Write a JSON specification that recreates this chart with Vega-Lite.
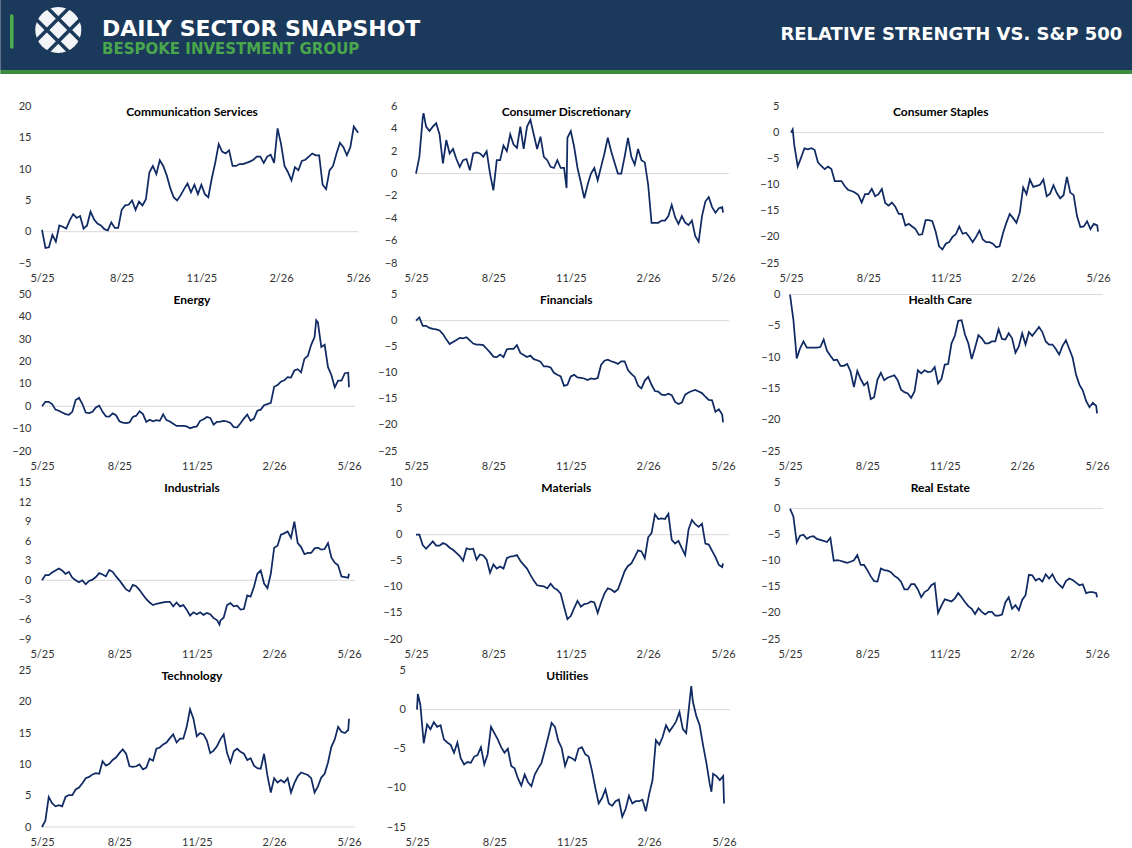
{
"$schema":"https://vega.github.io/schema/vega-lite/v6.json",
"padding":0,
"background":"#ffffff",
"title":{"text":"RELATIVE STRENGTH VS. S&P 500","anchor":"end","frame":"bounds","orient":"top","offset":-43.5,"dx":-10,"font":"DejaVu Sans","fontSize":18,"fontWeight":"bold","color":"#ffffff","zindex":1},
"config":{
"view":{"stroke":null},
"axis":{"grid":false,"domain":false,"ticks":false,"labelFont":"Lato","labelFontSize":11,"labelColor":"#333333","labelOverlap":false,"labelFlush":false},
"axisY":{"labelOverlap":false,"tickCount":30,"format":"d"},
"title":{"font":"Lato","fontSize":12,"fontWeight":"bold","color":"#000000","anchor":"middle","frame":"group"},
"line":{"color":"#102a63","strokeWidth":1.75}
},
"datasets":{
"comm":[{"date":"2025-05-12","value":0.3},{"date":"2025-05-16","value":-2.6},{"date":"2025-05-20","value":-2.5},{"date":"2025-05-24","value":-0.5},{"date":"2025-05-28","value":-1.6},{"date":"2025-06-01","value":1.0},{"date":"2025-06-05","value":0.8},{"date":"2025-06-09","value":0.5},{"date":"2025-06-13","value":1.8},{"date":"2025-06-17","value":2.8},{"date":"2025-06-21","value":2.2},{"date":"2025-06-25","value":2.5},{"date":"2025-06-29","value":0.5},{"date":"2025-07-03","value":1.0},{"date":"2025-07-07","value":3.2},{"date":"2025-07-11","value":2.0},{"date":"2025-07-15","value":1.3},{"date":"2025-07-19","value":1.0},{"date":"2025-07-23","value":0.4},{"date":"2025-07-27","value":0.2},{"date":"2025-07-31","value":1.5},{"date":"2025-08-04","value":0.6},{"date":"2025-08-08","value":0.6},{"date":"2025-08-12","value":3.5},{"date":"2025-08-16","value":4.2},{"date":"2025-08-20","value":4.3},{"date":"2025-08-24","value":5.0},{"date":"2025-08-28","value":3.5},{"date":"2025-09-01","value":4.8},{"date":"2025-09-05","value":4.2},{"date":"2025-09-09","value":5.2},{"date":"2025-09-13","value":9.5},{"date":"2025-09-17","value":10.5},{"date":"2025-09-21","value":9.2},{"date":"2025-09-25","value":11.4},{"date":"2025-09-29","value":10.5},{"date":"2025-10-03","value":9.0},{"date":"2025-10-07","value":7.0},{"date":"2025-10-11","value":5.5},{"date":"2025-10-15","value":5.0},{"date":"2025-10-19","value":5.8},{"date":"2025-10-23","value":6.8},{"date":"2025-10-27","value":7.7},{"date":"2025-10-31","value":6.3},{"date":"2025-11-04","value":7.5},{"date":"2025-11-08","value":6.0},{"date":"2025-11-12","value":7.5},{"date":"2025-11-16","value":6.0},{"date":"2025-11-20","value":5.5},{"date":"2025-11-24","value":8.5},{"date":"2025-11-28","value":11.0},{"date":"2025-12-02","value":14.0},{"date":"2025-12-06","value":12.8},{"date":"2025-12-10","value":12.5},{"date":"2025-12-14","value":13.0},{"date":"2025-12-18","value":10.5},{"date":"2025-12-22","value":10.5},{"date":"2025-12-26","value":10.8},{"date":"2025-12-30","value":10.8},{"date":"2026-01-03","value":11.0},{"date":"2026-01-07","value":11.2},{"date":"2026-01-11","value":11.5},{"date":"2026-01-15","value":12.0},{"date":"2026-01-19","value":12.0},{"date":"2026-01-23","value":11.0},{"date":"2026-01-27","value":12.0},{"date":"2026-01-31","value":12.3},{"date":"2026-02-04","value":11.0},{"date":"2026-02-08","value":16.5},{"date":"2026-02-12","value":14.0},{"date":"2026-02-16","value":10.5},{"date":"2026-02-20","value":9.5},{"date":"2026-02-24","value":8.2},{"date":"2026-02-28","value":10.3},{"date":"2026-03-04","value":9.8},{"date":"2026-03-08","value":11.3},{"date":"2026-03-12","value":11.5},{"date":"2026-03-16","value":12.0},{"date":"2026-03-20","value":12.5},{"date":"2026-03-24","value":12.2},{"date":"2026-03-28","value":12.2},{"date":"2026-04-01","value":7.5},{"date":"2026-04-05","value":6.8},{"date":"2026-04-09","value":9.8},{"date":"2026-04-13","value":10.5},{"date":"2026-04-17","value":12.5},{"date":"2026-04-21","value":14.2},{"date":"2026-04-25","value":13.5},{"date":"2026-04-29","value":12.2},{"date":"2026-05-03","value":13.5},{"date":"2026-05-07","value":16.8},{"date":"2026-05-11","value":16.0},{"date":"2026-05-12","value":15.8}],
"disc":[{"date":"2025-05-12","value":0.0},{"date":"2025-05-16","value":1.5},{"date":"2025-05-20","value":5.0},{"date":"2025-05-21","value":5.4},{"date":"2025-05-24","value":4.2},{"date":"2025-05-28","value":3.8},{"date":"2025-06-01","value":4.2},{"date":"2025-06-05","value":4.5},{"date":"2025-06-09","value":3.5},{"date":"2025-06-13","value":0.9},{"date":"2025-06-17","value":3.0},{"date":"2025-06-21","value":1.8},{"date":"2025-06-25","value":2.2},{"date":"2025-06-29","value":1.3},{"date":"2025-07-03","value":0.6},{"date":"2025-07-07","value":1.2},{"date":"2025-07-11","value":1.3},{"date":"2025-07-15","value":0.3},{"date":"2025-07-19","value":1.8},{"date":"2025-07-23","value":1.9},{"date":"2025-07-27","value":1.8},{"date":"2025-07-31","value":1.5},{"date":"2025-08-04","value":2.0},{"date":"2025-08-08","value":0.0},{"date":"2025-08-12","value":-1.5},{"date":"2025-08-16","value":1.2},{"date":"2025-08-20","value":1.2},{"date":"2025-08-24","value":2.5},{"date":"2025-08-28","value":2.0},{"date":"2025-09-01","value":3.5},{"date":"2025-09-05","value":2.6},{"date":"2025-09-09","value":2.3},{"date":"2025-09-13","value":4.2},{"date":"2025-09-17","value":2.2},{"date":"2025-09-21","value":4.2},{"date":"2025-09-25","value":4.8},{"date":"2025-09-29","value":3.5},{"date":"2025-10-03","value":2.2},{"date":"2025-10-07","value":3.3},{"date":"2025-10-11","value":1.5},{"date":"2025-10-15","value":1.2},{"date":"2025-10-19","value":0.6},{"date":"2025-10-23","value":0.5},{"date":"2025-10-27","value":1.2},{"date":"2025-10-31","value":0.5},{"date":"2025-11-04","value":0.5},{"date":"2025-11-07","value":-1.3},{"date":"2025-11-08","value":3.2},{"date":"2025-11-12","value":3.8},{"date":"2025-11-16","value":2.4},{"date":"2025-11-20","value":0.5},{"date":"2025-11-24","value":-0.8},{"date":"2025-11-28","value":-2.2},{"date":"2025-12-02","value":-1.0},{"date":"2025-12-06","value":0.0},{"date":"2025-12-10","value":0.5},{"date":"2025-12-14","value":-0.6},{"date":"2025-12-18","value":0.6},{"date":"2025-12-22","value":1.8},{"date":"2025-12-26","value":3.2},{"date":"2025-12-30","value":2.0},{"date":"2026-01-03","value":1.0},{"date":"2026-01-07","value":0.0},{"date":"2026-01-11","value":0.0},{"date":"2026-01-15","value":1.5},{"date":"2026-01-19","value":3.2},{"date":"2026-01-23","value":1.5},{"date":"2026-01-27","value":0.8},{"date":"2026-01-31","value":2.2},{"date":"2026-02-04","value":1.2},{"date":"2026-02-08","value":1.0},{"date":"2026-02-12","value":-1.0},{"date":"2026-02-16","value":-4.4},{"date":"2026-02-20","value":-4.4},{"date":"2026-02-24","value":-4.4},{"date":"2026-02-28","value":-4.2},{"date":"2026-03-04","value":-4.2},{"date":"2026-03-08","value":-3.8},{"date":"2026-03-12","value":-2.8},{"date":"2026-03-16","value":-3.9},{"date":"2026-03-20","value":-4.5},{"date":"2026-03-24","value":-3.8},{"date":"2026-03-28","value":-4.4},{"date":"2026-04-01","value":-4.6},{"date":"2026-04-05","value":-4.2},{"date":"2026-04-09","value":-5.6},{"date":"2026-04-13","value":-6.1},{"date":"2026-04-17","value":-3.8},{"date":"2026-04-21","value":-2.5},{"date":"2026-04-25","value":-2.1},{"date":"2026-04-29","value":-3.0},{"date":"2026-05-03","value":-3.5},{"date":"2026-05-07","value":-3.1},{"date":"2026-05-11","value":-3.0},{"date":"2026-05-12","value":-3.5}],
"staples":[{"date":"2025-05-12","value":0.0},{"date":"2025-05-14","value":0.6},{"date":"2025-05-16","value":-2.5},{"date":"2025-05-20","value":-6.5},{"date":"2025-05-24","value":-4.8},{"date":"2025-05-28","value":-3.0},{"date":"2025-06-01","value":-3.2},{"date":"2025-06-05","value":-3.0},{"date":"2025-06-09","value":-3.3},{"date":"2025-06-13","value":-5.7},{"date":"2025-06-17","value":-6.4},{"date":"2025-06-21","value":-7.0},{"date":"2025-06-25","value":-6.5},{"date":"2025-06-29","value":-7.0},{"date":"2025-07-03","value":-9.3},{"date":"2025-07-07","value":-9.3},{"date":"2025-07-11","value":-9.3},{"date":"2025-07-15","value":-10.3},{"date":"2025-07-19","value":-11.0},{"date":"2025-07-23","value":-11.2},{"date":"2025-07-27","value":-11.5},{"date":"2025-07-31","value":-12.0},{"date":"2025-08-04","value":-13.4},{"date":"2025-08-08","value":-11.8},{"date":"2025-08-12","value":-11.8},{"date":"2025-08-16","value":-10.8},{"date":"2025-08-20","value":-12.2},{"date":"2025-08-24","value":-11.8},{"date":"2025-08-28","value":-10.8},{"date":"2025-09-01","value":-13.5},{"date":"2025-09-05","value":-14.0},{"date":"2025-09-09","value":-13.4},{"date":"2025-09-13","value":-14.2},{"date":"2025-09-17","value":-15.6},{"date":"2025-09-21","value":-15.6},{"date":"2025-09-25","value":-17.8},{"date":"2025-09-29","value":-17.5},{"date":"2025-10-03","value":-18.0},{"date":"2025-10-07","value":-18.5},{"date":"2025-10-11","value":-19.6},{"date":"2025-10-15","value":-19.5},{"date":"2025-10-19","value":-16.8},{"date":"2025-10-23","value":-16.8},{"date":"2025-10-27","value":-17.0},{"date":"2025-10-31","value":-19.0},{"date":"2025-11-04","value":-21.8},{"date":"2025-11-08","value":-22.4},{"date":"2025-11-12","value":-21.3},{"date":"2025-11-16","value":-21.0},{"date":"2025-11-20","value":-20.0},{"date":"2025-11-24","value":-19.5},{"date":"2025-11-28","value":-18.0},{"date":"2025-12-02","value":-19.4},{"date":"2025-12-06","value":-19.2},{"date":"2025-12-10","value":-20.0},{"date":"2025-12-14","value":-21.0},{"date":"2025-12-18","value":-20.0},{"date":"2025-12-22","value":-18.8},{"date":"2025-12-26","value":-20.5},{"date":"2025-12-30","value":-21.0},{"date":"2026-01-03","value":-21.0},{"date":"2026-01-07","value":-21.3},{"date":"2026-01-11","value":-22.0},{"date":"2026-01-15","value":-21.8},{"date":"2026-01-19","value":-19.3},{"date":"2026-01-23","value":-17.3},{"date":"2026-01-27","value":-15.6},{"date":"2026-01-31","value":-16.4},{"date":"2026-02-04","value":-17.3},{"date":"2026-02-08","value":-15.3},{"date":"2026-02-12","value":-10.5},{"date":"2026-02-16","value":-11.8},{"date":"2026-02-20","value":-9.0},{"date":"2026-02-24","value":-10.4},{"date":"2026-02-28","value":-10.2},{"date":"2026-03-04","value":-10.0},{"date":"2026-03-08","value":-9.0},{"date":"2026-03-12","value":-12.2},{"date":"2026-03-16","value":-11.7},{"date":"2026-03-20","value":-10.1},{"date":"2026-03-24","value":-11.6},{"date":"2026-03-28","value":-12.6},{"date":"2026-04-01","value":-12.0},{"date":"2026-04-05","value":-8.5},{"date":"2026-04-09","value":-11.5},{"date":"2026-04-13","value":-12.0},{"date":"2026-04-17","value":-16.0},{"date":"2026-04-21","value":-18.1},{"date":"2026-04-25","value":-18.0},{"date":"2026-04-29","value":-17.0},{"date":"2026-05-03","value":-18.5},{"date":"2026-05-07","value":-17.5},{"date":"2026-05-11","value":-17.8},{"date":"2026-05-12","value":-19.0}],
"energy":[{"date":"2025-05-12","value":0.0},{"date":"2025-05-16","value":2.0},{"date":"2025-05-20","value":2.0},{"date":"2025-05-24","value":1.0},{"date":"2025-05-28","value":-1.5},{"date":"2025-06-01","value":-2.0},{"date":"2025-06-05","value":-2.8},{"date":"2025-06-09","value":-3.5},{"date":"2025-06-13","value":-3.8},{"date":"2025-06-17","value":-2.5},{"date":"2025-06-21","value":2.8},{"date":"2025-06-25","value":3.8},{"date":"2025-06-29","value":1.0},{"date":"2025-07-03","value":-2.8},{"date":"2025-07-07","value":-3.0},{"date":"2025-07-11","value":-2.5},{"date":"2025-07-15","value":-0.5},{"date":"2025-07-19","value":0.3},{"date":"2025-07-23","value":-2.5},{"date":"2025-07-27","value":-4.5},{"date":"2025-07-31","value":-4.6},{"date":"2025-08-04","value":-3.2},{"date":"2025-08-08","value":-4.0},{"date":"2025-08-12","value":-6.7},{"date":"2025-08-16","value":-7.3},{"date":"2025-08-20","value":-7.5},{"date":"2025-08-24","value":-7.2},{"date":"2025-08-28","value":-4.8},{"date":"2025-09-01","value":-4.2},{"date":"2025-09-05","value":-2.2},{"date":"2025-09-09","value":-3.5},{"date":"2025-09-13","value":-7.0},{"date":"2025-09-17","value":-6.0},{"date":"2025-09-21","value":-6.7},{"date":"2025-09-25","value":-6.2},{"date":"2025-09-29","value":-6.5},{"date":"2025-10-03","value":-3.6},{"date":"2025-10-07","value":-6.2},{"date":"2025-10-11","value":-6.8},{"date":"2025-10-15","value":-7.8},{"date":"2025-10-19","value":-8.8},{"date":"2025-10-23","value":-8.8},{"date":"2025-10-27","value":-8.8},{"date":"2025-10-31","value":-9.0},{"date":"2025-11-04","value":-9.8},{"date":"2025-11-08","value":-9.3},{"date":"2025-11-12","value":-9.0},{"date":"2025-11-16","value":-6.5},{"date":"2025-11-20","value":-5.8},{"date":"2025-11-24","value":-4.8},{"date":"2025-11-28","value":-5.2},{"date":"2025-12-02","value":-8.2},{"date":"2025-12-06","value":-7.0},{"date":"2025-12-10","value":-6.9},{"date":"2025-12-14","value":-6.5},{"date":"2025-12-18","value":-6.8},{"date":"2025-12-22","value":-7.5},{"date":"2025-12-26","value":-9.3},{"date":"2025-12-30","value":-9.4},{"date":"2026-01-03","value":-7.6},{"date":"2026-01-07","value":-5.5},{"date":"2026-01-11","value":-3.7},{"date":"2026-01-15","value":-6.5},{"date":"2026-01-19","value":-5.5},{"date":"2026-01-23","value":-2.0},{"date":"2026-01-27","value":-1.5},{"date":"2026-01-31","value":0.5},{"date":"2026-02-04","value":1.0},{"date":"2026-02-08","value":1.5},{"date":"2026-02-12","value":8.7},{"date":"2026-02-16","value":9.5},{"date":"2026-02-20","value":11.0},{"date":"2026-02-24","value":11.6},{"date":"2026-02-28","value":13.0},{"date":"2026-03-04","value":12.8},{"date":"2026-03-08","value":16.0},{"date":"2026-03-12","value":16.6},{"date":"2026-03-16","value":15.2},{"date":"2026-03-20","value":21.3},{"date":"2026-03-24","value":22.5},{"date":"2026-03-28","value":27.5},{"date":"2026-04-01","value":31.0},{"date":"2026-04-03","value":38.5},{"date":"2026-04-05","value":37.5},{"date":"2026-04-09","value":26.5},{"date":"2026-04-13","value":27.5},{"date":"2026-04-17","value":17.5},{"date":"2026-04-21","value":14.0},{"date":"2026-04-25","value":8.5},{"date":"2026-04-29","value":11.5},{"date":"2026-05-03","value":11.5},{"date":"2026-05-07","value":14.8},{"date":"2026-05-11","value":15.0},{"date":"2026-05-12","value":8.5}],
"fin":[{"date":"2025-05-12","value":0.0},{"date":"2025-05-16","value":0.6},{"date":"2025-05-20","value":-1.0},{"date":"2025-05-24","value":-1.0},{"date":"2025-05-28","value":-1.4},{"date":"2025-06-01","value":-1.6},{"date":"2025-06-05","value":-1.7},{"date":"2025-06-09","value":-1.9},{"date":"2025-06-13","value":-2.6},{"date":"2025-06-17","value":-3.6},{"date":"2025-06-21","value":-4.5},{"date":"2025-06-25","value":-4.1},{"date":"2025-06-29","value":-3.7},{"date":"2025-07-03","value":-3.3},{"date":"2025-07-07","value":-3.4},{"date":"2025-07-11","value":-3.2},{"date":"2025-07-15","value":-3.8},{"date":"2025-07-19","value":-4.4},{"date":"2025-07-23","value":-4.6},{"date":"2025-07-27","value":-4.6},{"date":"2025-07-31","value":-4.7},{"date":"2025-08-04","value":-5.4},{"date":"2025-08-08","value":-6.1},{"date":"2025-08-12","value":-6.9},{"date":"2025-08-16","value":-7.0},{"date":"2025-08-20","value":-6.5},{"date":"2025-08-24","value":-7.0},{"date":"2025-08-28","value":-5.5},{"date":"2025-09-01","value":-5.4},{"date":"2025-09-05","value":-5.4},{"date":"2025-09-09","value":-4.7},{"date":"2025-09-13","value":-6.2},{"date":"2025-09-17","value":-6.6},{"date":"2025-09-21","value":-7.0},{"date":"2025-09-25","value":-6.7},{"date":"2025-09-29","value":-7.4},{"date":"2025-10-03","value":-7.6},{"date":"2025-10-07","value":-7.9},{"date":"2025-10-11","value":-8.8},{"date":"2025-10-15","value":-8.8},{"date":"2025-10-19","value":-9.0},{"date":"2025-10-23","value":-10.0},{"date":"2025-10-27","value":-10.4},{"date":"2025-10-31","value":-10.7},{"date":"2025-11-04","value":-12.5},{"date":"2025-11-08","value":-12.3},{"date":"2025-11-12","value":-10.7},{"date":"2025-11-16","value":-10.4},{"date":"2025-11-20","value":-10.9},{"date":"2025-11-24","value":-11.0},{"date":"2025-11-28","value":-11.1},{"date":"2025-12-02","value":-11.4},{"date":"2025-12-06","value":-11.1},{"date":"2025-12-10","value":-11.2},{"date":"2025-12-14","value":-11.0},{"date":"2025-12-18","value":-8.5},{"date":"2025-12-22","value":-7.7},{"date":"2025-12-26","value":-7.5},{"date":"2025-12-30","value":-7.8},{"date":"2026-01-03","value":-8.0},{"date":"2026-01-07","value":-8.3},{"date":"2026-01-11","value":-7.8},{"date":"2026-01-15","value":-7.8},{"date":"2026-01-19","value":-9.5},{"date":"2026-01-23","value":-10.2},{"date":"2026-01-27","value":-10.8},{"date":"2026-01-31","value":-12.5},{"date":"2026-02-04","value":-13.0},{"date":"2026-02-08","value":-11.5},{"date":"2026-02-12","value":-10.8},{"date":"2026-02-16","value":-12.3},{"date":"2026-02-20","value":-13.5},{"date":"2026-02-24","value":-13.6},{"date":"2026-02-28","value":-14.2},{"date":"2026-03-04","value":-14.3},{"date":"2026-03-08","value":-14.0},{"date":"2026-03-12","value":-14.3},{"date":"2026-03-16","value":-15.6},{"date":"2026-03-20","value":-16.0},{"date":"2026-03-24","value":-15.7},{"date":"2026-03-28","value":-14.2},{"date":"2026-04-01","value":-13.8},{"date":"2026-04-05","value":-13.5},{"date":"2026-04-09","value":-13.3},{"date":"2026-04-13","value":-13.6},{"date":"2026-04-17","value":-13.9},{"date":"2026-04-21","value":-14.6},{"date":"2026-04-25","value":-15.2},{"date":"2026-04-29","value":-15.3},{"date":"2026-05-03","value":-17.5},{"date":"2026-05-07","value":-17.0},{"date":"2026-05-11","value":-18.0},{"date":"2026-05-12","value":-19.5}],
"health":[{"date":"2025-05-12","value":0.0},{"date":"2025-05-16","value":-4.0},{"date":"2025-05-20","value":-10.2},{"date":"2025-05-24","value":-8.6},{"date":"2025-05-28","value":-7.5},{"date":"2025-06-01","value":-8.5},{"date":"2025-06-05","value":-8.5},{"date":"2025-06-09","value":-8.5},{"date":"2025-06-13","value":-8.5},{"date":"2025-06-17","value":-8.4},{"date":"2025-06-21","value":-7.2},{"date":"2025-06-25","value":-9.0},{"date":"2025-06-29","value":-9.8},{"date":"2025-07-03","value":-10.5},{"date":"2025-07-07","value":-10.4},{"date":"2025-07-11","value":-11.4},{"date":"2025-07-15","value":-11.4},{"date":"2025-07-19","value":-11.1},{"date":"2025-07-23","value":-12.3},{"date":"2025-07-27","value":-14.8},{"date":"2025-07-31","value":-12.2},{"date":"2025-08-04","value":-13.5},{"date":"2025-08-08","value":-14.5},{"date":"2025-08-12","value":-14.0},{"date":"2025-08-16","value":-16.7},{"date":"2025-08-20","value":-16.4},{"date":"2025-08-24","value":-13.6},{"date":"2025-08-28","value":-12.5},{"date":"2025-09-01","value":-13.7},{"date":"2025-09-05","value":-13.3},{"date":"2025-09-09","value":-13.1},{"date":"2025-09-13","value":-12.9},{"date":"2025-09-17","value":-13.7},{"date":"2025-09-21","value":-15.2},{"date":"2025-09-25","value":-15.6},{"date":"2025-09-29","value":-15.8},{"date":"2025-10-03","value":-16.5},{"date":"2025-10-07","value":-15.5},{"date":"2025-10-11","value":-12.1},{"date":"2025-10-15","value":-12.6},{"date":"2025-10-19","value":-12.1},{"date":"2025-10-23","value":-12.4},{"date":"2025-10-27","value":-12.3},{"date":"2025-10-31","value":-11.6},{"date":"2025-11-04","value":-14.2},{"date":"2025-11-08","value":-13.5},{"date":"2025-11-12","value":-11.2},{"date":"2025-11-16","value":-11.1},{"date":"2025-11-20","value":-7.8},{"date":"2025-11-24","value":-6.6},{"date":"2025-11-28","value":-4.2},{"date":"2025-12-02","value":-4.1},{"date":"2025-12-06","value":-6.4},{"date":"2025-12-10","value":-7.8},{"date":"2025-12-14","value":-10.3},{"date":"2025-12-18","value":-8.5},{"date":"2025-12-22","value":-6.5},{"date":"2025-12-26","value":-7.0},{"date":"2025-12-30","value":-7.8},{"date":"2026-01-03","value":-7.8},{"date":"2026-01-07","value":-7.5},{"date":"2026-01-11","value":-7.5},{"date":"2026-01-15","value":-5.5},{"date":"2026-01-19","value":-7.1},{"date":"2026-01-23","value":-7.2},{"date":"2026-01-27","value":-6.2},{"date":"2026-01-31","value":-7.0},{"date":"2026-02-04","value":-9.3},{"date":"2026-02-08","value":-8.3},{"date":"2026-02-12","value":-6.2},{"date":"2026-02-16","value":-8.0},{"date":"2026-02-20","value":-6.0},{"date":"2026-02-24","value":-6.6},{"date":"2026-02-28","value":-5.9},{"date":"2026-03-04","value":-5.2},{"date":"2026-03-08","value":-6.0},{"date":"2026-03-12","value":-7.5},{"date":"2026-03-16","value":-8.0},{"date":"2026-03-20","value":-8.0},{"date":"2026-03-24","value":-8.7},{"date":"2026-03-28","value":-9.6},{"date":"2026-04-01","value":-8.2},{"date":"2026-04-05","value":-7.3},{"date":"2026-04-09","value":-8.7},{"date":"2026-04-13","value":-10.1},{"date":"2026-04-17","value":-12.8},{"date":"2026-04-21","value":-14.4},{"date":"2026-04-25","value":-15.3},{"date":"2026-04-29","value":-17.0},{"date":"2026-05-03","value":-18.0},{"date":"2026-05-07","value":-17.3},{"date":"2026-05-11","value":-17.8},{"date":"2026-05-12","value":-19.0}],
"ind":[{"date":"2025-05-12","value":0.0},{"date":"2025-05-16","value":0.8},{"date":"2025-05-20","value":0.8},{"date":"2025-05-24","value":1.2},{"date":"2025-05-28","value":1.5},{"date":"2025-06-01","value":1.8},{"date":"2025-06-05","value":1.5},{"date":"2025-06-09","value":1.0},{"date":"2025-06-13","value":1.3},{"date":"2025-06-17","value":0.4},{"date":"2025-06-21","value":0.0},{"date":"2025-06-25","value":-0.3},{"date":"2025-06-29","value":0.0},{"date":"2025-07-03","value":-0.6},{"date":"2025-07-07","value":-0.1},{"date":"2025-07-11","value":0.1},{"date":"2025-07-15","value":0.5},{"date":"2025-07-19","value":1.1},{"date":"2025-07-23","value":0.9},{"date":"2025-07-27","value":0.6},{"date":"2025-07-31","value":1.6},{"date":"2025-08-04","value":1.3},{"date":"2025-08-08","value":0.6},{"date":"2025-08-12","value":0.0},{"date":"2025-08-16","value":-0.7},{"date":"2025-08-20","value":-1.4},{"date":"2025-08-24","value":-1.7},{"date":"2025-08-28","value":-0.7},{"date":"2025-09-01","value":-0.9},{"date":"2025-09-05","value":-1.5},{"date":"2025-09-09","value":-2.2},{"date":"2025-09-13","value":-2.9},{"date":"2025-09-17","value":-3.4},{"date":"2025-09-21","value":-3.8},{"date":"2025-09-25","value":-3.6},{"date":"2025-09-29","value":-3.5},{"date":"2025-10-03","value":-3.4},{"date":"2025-10-07","value":-3.3},{"date":"2025-10-11","value":-3.3},{"date":"2025-10-15","value":-4.0},{"date":"2025-10-19","value":-3.4},{"date":"2025-10-23","value":-4.0},{"date":"2025-10-27","value":-3.8},{"date":"2025-10-31","value":-4.5},{"date":"2025-11-04","value":-5.4},{"date":"2025-11-08","value":-4.9},{"date":"2025-11-12","value":-5.2},{"date":"2025-11-16","value":-4.9},{"date":"2025-11-20","value":-5.3},{"date":"2025-11-24","value":-5.0},{"date":"2025-11-28","value":-5.2},{"date":"2025-12-02","value":-5.8},{"date":"2025-12-06","value":-6.1},{"date":"2025-12-09","value":-6.8},{"date":"2025-12-10","value":-6.2},{"date":"2025-12-14","value":-5.7},{"date":"2025-12-18","value":-3.8},{"date":"2025-12-22","value":-3.5},{"date":"2025-12-26","value":-4.0},{"date":"2025-12-30","value":-3.9},{"date":"2026-01-03","value":-4.5},{"date":"2026-01-07","value":-4.4},{"date":"2026-01-11","value":-2.3},{"date":"2026-01-15","value":-2.5},{"date":"2026-01-19","value":-1.0},{"date":"2026-01-23","value":1.0},{"date":"2026-01-27","value":1.5},{"date":"2026-01-31","value":-0.5},{"date":"2026-02-04","value":-1.2},{"date":"2026-02-08","value":1.0},{"date":"2026-02-12","value":5.0},{"date":"2026-02-16","value":5.3},{"date":"2026-02-20","value":7.0},{"date":"2026-02-24","value":7.2},{"date":"2026-02-28","value":7.5},{"date":"2026-03-04","value":6.5},{"date":"2026-03-08","value":9.0},{"date":"2026-03-12","value":5.7},{"date":"2026-03-16","value":5.1},{"date":"2026-03-20","value":4.0},{"date":"2026-03-24","value":4.2},{"date":"2026-03-28","value":4.2},{"date":"2026-04-01","value":4.9},{"date":"2026-04-05","value":5.0},{"date":"2026-04-09","value":4.7},{"date":"2026-04-13","value":4.8},{"date":"2026-04-17","value":5.7},{"date":"2026-04-21","value":3.5},{"date":"2026-04-25","value":2.7},{"date":"2026-04-29","value":2.3},{"date":"2026-05-03","value":0.6},{"date":"2026-05-07","value":0.5},{"date":"2026-05-11","value":0.4},{"date":"2026-05-12","value":1.0}],
"mat":[{"date":"2025-05-12","value":0.0},{"date":"2025-05-16","value":0.0},{"date":"2025-05-20","value":-2.0},{"date":"2025-05-24","value":-2.7},{"date":"2025-05-28","value":-2.0},{"date":"2025-06-01","value":-1.3},{"date":"2025-06-05","value":-2.1},{"date":"2025-06-09","value":-2.1},{"date":"2025-06-13","value":-1.6},{"date":"2025-06-17","value":-1.9},{"date":"2025-06-21","value":-2.5},{"date":"2025-06-25","value":-2.9},{"date":"2025-06-29","value":-3.5},{"date":"2025-07-03","value":-4.1},{"date":"2025-07-07","value":-5.0},{"date":"2025-07-11","value":-2.6},{"date":"2025-07-15","value":-2.8},{"date":"2025-07-19","value":-2.7},{"date":"2025-07-23","value":-4.8},{"date":"2025-07-27","value":-3.8},{"date":"2025-07-31","value":-4.0},{"date":"2025-08-04","value":-4.8},{"date":"2025-08-08","value":-7.3},{"date":"2025-08-12","value":-5.7},{"date":"2025-08-16","value":-6.5},{"date":"2025-08-20","value":-6.1},{"date":"2025-08-24","value":-6.5},{"date":"2025-08-28","value":-4.5},{"date":"2025-09-01","value":-4.2},{"date":"2025-09-05","value":-4.1},{"date":"2025-09-09","value":-3.9},{"date":"2025-09-13","value":-5.0},{"date":"2025-09-17","value":-5.8},{"date":"2025-09-21","value":-6.5},{"date":"2025-09-25","value":-7.7},{"date":"2025-09-29","value":-8.8},{"date":"2025-10-03","value":-9.7},{"date":"2025-10-07","value":-9.8},{"date":"2025-10-11","value":-9.9},{"date":"2025-10-15","value":-10.3},{"date":"2025-10-19","value":-9.4},{"date":"2025-10-23","value":-10.2},{"date":"2025-10-27","value":-10.6},{"date":"2025-10-31","value":-11.3},{"date":"2025-11-04","value":-13.8},{"date":"2025-11-08","value":-16.2},{"date":"2025-11-12","value":-15.6},{"date":"2025-11-16","value":-14.1},{"date":"2025-11-20","value":-12.7},{"date":"2025-11-24","value":-13.8},{"date":"2025-11-28","value":-13.3},{"date":"2025-12-02","value":-13.2},{"date":"2025-12-06","value":-12.8},{"date":"2025-12-10","value":-13.0},{"date":"2025-12-14","value":-15.0},{"date":"2025-12-18","value":-13.0},{"date":"2025-12-22","value":-11.3},{"date":"2025-12-26","value":-10.3},{"date":"2025-12-30","value":-10.5},{"date":"2026-01-03","value":-11.0},{"date":"2026-01-07","value":-10.5},{"date":"2026-01-11","value":-8.8},{"date":"2026-01-15","value":-7.0},{"date":"2026-01-19","value":-6.0},{"date":"2026-01-23","value":-5.5},{"date":"2026-01-27","value":-4.3},{"date":"2026-01-31","value":-3.0},{"date":"2026-02-04","value":-3.2},{"date":"2026-02-08","value":-4.5},{"date":"2026-02-12","value":-0.5},{"date":"2026-02-16","value":0.3},{"date":"2026-02-20","value":3.9},{"date":"2026-02-24","value":3.0},{"date":"2026-02-28","value":3.1},{"date":"2026-03-04","value":3.0},{"date":"2026-03-08","value":4.0},{"date":"2026-03-12","value":-1.0},{"date":"2026-03-16","value":-1.7},{"date":"2026-03-20","value":-1.2},{"date":"2026-03-24","value":-2.6},{"date":"2026-03-28","value":-3.9},{"date":"2026-04-01","value":1.0},{"date":"2026-04-05","value":2.8},{"date":"2026-04-09","value":2.0},{"date":"2026-04-13","value":1.5},{"date":"2026-04-17","value":2.1},{"date":"2026-04-21","value":-1.7},{"date":"2026-04-25","value":-1.9},{"date":"2026-04-29","value":-3.1},{"date":"2026-05-03","value":-4.3},{"date":"2026-05-07","value":-5.8},{"date":"2026-05-11","value":-6.2},{"date":"2026-05-12","value":-5.5}],
"re":[{"date":"2025-05-12","value":0.0},{"date":"2025-05-16","value":-1.5},{"date":"2025-05-20","value":-6.5},{"date":"2025-05-24","value":-5.2},{"date":"2025-05-28","value":-5.0},{"date":"2025-06-01","value":-5.8},{"date":"2025-06-05","value":-5.4},{"date":"2025-06-09","value":-5.3},{"date":"2025-06-13","value":-5.8},{"date":"2025-06-17","value":-6.0},{"date":"2025-06-21","value":-6.2},{"date":"2025-06-25","value":-6.4},{"date":"2025-06-29","value":-5.6},{"date":"2025-07-03","value":-10.0},{"date":"2025-07-07","value":-9.9},{"date":"2025-07-11","value":-10.0},{"date":"2025-07-15","value":-10.2},{"date":"2025-07-19","value":-10.4},{"date":"2025-07-23","value":-10.2},{"date":"2025-07-27","value":-9.9},{"date":"2025-07-31","value":-8.9},{"date":"2025-08-04","value":-10.8},{"date":"2025-08-08","value":-10.8},{"date":"2025-08-12","value":-11.8},{"date":"2025-08-16","value":-13.0},{"date":"2025-08-20","value":-13.9},{"date":"2025-08-24","value":-14.0},{"date":"2025-08-28","value":-11.5},{"date":"2025-09-01","value":-11.8},{"date":"2025-09-05","value":-11.9},{"date":"2025-09-09","value":-12.2},{"date":"2025-09-13","value":-12.9},{"date":"2025-09-17","value":-13.3},{"date":"2025-09-21","value":-14.0},{"date":"2025-09-25","value":-15.5},{"date":"2025-09-29","value":-15.5},{"date":"2025-10-03","value":-14.5},{"date":"2025-10-07","value":-14.5},{"date":"2025-10-11","value":-15.5},{"date":"2025-10-15","value":-17.0},{"date":"2025-10-19","value":-16.0},{"date":"2025-10-23","value":-15.6},{"date":"2025-10-27","value":-14.7},{"date":"2025-10-31","value":-14.3},{"date":"2025-11-04","value":-20.0},{"date":"2025-11-08","value":-18.6},{"date":"2025-11-12","value":-17.4},{"date":"2025-11-16","value":-17.6},{"date":"2025-11-20","value":-17.8},{"date":"2025-11-24","value":-17.2},{"date":"2025-11-28","value":-16.2},{"date":"2025-12-02","value":-17.0},{"date":"2025-12-06","value":-17.9},{"date":"2025-12-10","value":-18.7},{"date":"2025-12-14","value":-19.2},{"date":"2025-12-18","value":-20.2},{"date":"2025-12-22","value":-19.1},{"date":"2025-12-26","value":-19.8},{"date":"2025-12-30","value":-20.3},{"date":"2026-01-03","value":-19.8},{"date":"2026-01-07","value":-19.8},{"date":"2026-01-11","value":-20.5},{"date":"2026-01-15","value":-20.5},{"date":"2026-01-19","value":-20.3},{"date":"2026-01-23","value":-18.0},{"date":"2026-01-27","value":-17.0},{"date":"2026-01-31","value":-19.2},{"date":"2026-02-04","value":-18.5},{"date":"2026-02-08","value":-19.5},{"date":"2026-02-12","value":-17.5},{"date":"2026-02-16","value":-16.6},{"date":"2026-02-20","value":-12.7},{"date":"2026-02-24","value":-12.8},{"date":"2026-02-28","value":-13.8},{"date":"2026-03-04","value":-13.4},{"date":"2026-03-08","value":-14.0},{"date":"2026-03-12","value":-12.6},{"date":"2026-03-16","value":-13.4},{"date":"2026-03-20","value":-12.6},{"date":"2026-03-24","value":-13.9},{"date":"2026-03-28","value":-14.6},{"date":"2026-04-01","value":-15.2},{"date":"2026-04-05","value":-13.9},{"date":"2026-04-09","value":-13.4},{"date":"2026-04-13","value":-13.7},{"date":"2026-04-17","value":-14.2},{"date":"2026-04-21","value":-14.7},{"date":"2026-04-25","value":-14.5},{"date":"2026-04-29","value":-16.2},{"date":"2026-05-03","value":-16.0},{"date":"2026-05-07","value":-16.0},{"date":"2026-05-11","value":-16.2},{"date":"2026-05-12","value":-17.0}],
"tech":[{"date":"2025-05-12","value":0.0},{"date":"2025-05-16","value":1.0},{"date":"2025-05-20","value":4.8},{"date":"2025-05-24","value":3.8},{"date":"2025-05-28","value":3.3},{"date":"2025-06-01","value":3.5},{"date":"2025-06-05","value":3.3},{"date":"2025-06-09","value":4.8},{"date":"2025-06-13","value":5.1},{"date":"2025-06-17","value":5.1},{"date":"2025-06-21","value":6.0},{"date":"2025-06-25","value":6.3},{"date":"2025-06-29","value":7.0},{"date":"2025-07-03","value":7.8},{"date":"2025-07-07","value":8.0},{"date":"2025-07-11","value":8.4},{"date":"2025-07-15","value":8.6},{"date":"2025-07-19","value":8.5},{"date":"2025-07-23","value":10.5},{"date":"2025-07-27","value":9.8},{"date":"2025-07-31","value":10.1},{"date":"2025-08-04","value":10.7},{"date":"2025-08-08","value":11.1},{"date":"2025-08-12","value":11.8},{"date":"2025-08-16","value":12.4},{"date":"2025-08-20","value":11.7},{"date":"2025-08-24","value":9.7},{"date":"2025-08-28","value":9.6},{"date":"2025-09-01","value":9.7},{"date":"2025-09-05","value":10.0},{"date":"2025-09-09","value":9.2},{"date":"2025-09-13","value":9.5},{"date":"2025-09-17","value":10.9},{"date":"2025-09-21","value":10.6},{"date":"2025-09-25","value":12.5},{"date":"2025-09-29","value":12.7},{"date":"2025-10-03","value":13.2},{"date":"2025-10-07","value":13.5},{"date":"2025-10-11","value":14.2},{"date":"2025-10-15","value":14.8},{"date":"2025-10-19","value":13.5},{"date":"2025-10-23","value":14.1},{"date":"2025-10-27","value":14.1},{"date":"2025-10-31","value":16.0},{"date":"2025-11-04","value":18.8},{"date":"2025-11-08","value":17.3},{"date":"2025-11-12","value":14.5},{"date":"2025-11-16","value":15.0},{"date":"2025-11-20","value":14.8},{"date":"2025-11-24","value":13.8},{"date":"2025-11-28","value":11.8},{"date":"2025-12-02","value":12.2},{"date":"2025-12-06","value":12.9},{"date":"2025-12-10","value":14.0},{"date":"2025-12-14","value":14.8},{"date":"2025-12-18","value":11.8},{"date":"2025-12-22","value":10.3},{"date":"2025-12-26","value":12.1},{"date":"2025-12-30","value":12.5},{"date":"2026-01-03","value":12.0},{"date":"2026-01-07","value":11.7},{"date":"2026-01-11","value":10.7},{"date":"2026-01-15","value":11.0},{"date":"2026-01-19","value":9.8},{"date":"2026-01-23","value":9.4},{"date":"2026-01-27","value":9.3},{"date":"2026-01-31","value":11.7},{"date":"2026-02-04","value":8.2},{"date":"2026-02-08","value":5.5},{"date":"2026-02-12","value":7.8},{"date":"2026-02-16","value":7.1},{"date":"2026-02-20","value":7.5},{"date":"2026-02-24","value":7.1},{"date":"2026-02-28","value":7.8},{"date":"2026-03-04","value":5.5},{"date":"2026-03-08","value":7.0},{"date":"2026-03-12","value":8.1},{"date":"2026-03-16","value":8.7},{"date":"2026-03-20","value":8.5},{"date":"2026-03-24","value":8.3},{"date":"2026-03-28","value":7.8},{"date":"2026-04-01","value":5.5},{"date":"2026-04-05","value":6.5},{"date":"2026-04-09","value":7.9},{"date":"2026-04-13","value":8.5},{"date":"2026-04-17","value":10.3},{"date":"2026-04-21","value":12.8},{"date":"2026-04-25","value":14.0},{"date":"2026-04-29","value":16.0},{"date":"2026-05-03","value":15.2},{"date":"2026-05-07","value":15.0},{"date":"2026-05-11","value":15.5},{"date":"2026-05-12","value":17.3}],
"util":[{"date":"2025-05-12","value":0.0},{"date":"2025-05-13","value":2.0},{"date":"2025-05-16","value":0.6},{"date":"2025-05-20","value":-4.3},{"date":"2025-05-24","value":-1.9},{"date":"2025-05-28","value":-2.5},{"date":"2025-06-01","value":-1.6},{"date":"2025-06-05","value":-2.2},{"date":"2025-06-09","value":-2.0},{"date":"2025-06-13","value":-3.8},{"date":"2025-06-17","value":-4.2},{"date":"2025-06-21","value":-4.5},{"date":"2025-06-25","value":-5.5},{"date":"2025-06-29","value":-4.2},{"date":"2025-07-03","value":-6.2},{"date":"2025-07-07","value":-7.0},{"date":"2025-07-11","value":-6.7},{"date":"2025-07-15","value":-6.8},{"date":"2025-07-19","value":-6.0},{"date":"2025-07-23","value":-5.8},{"date":"2025-07-27","value":-4.8},{"date":"2025-07-31","value":-7.0},{"date":"2025-08-04","value":-5.7},{"date":"2025-08-08","value":-2.2},{"date":"2025-08-12","value":-3.0},{"date":"2025-08-16","value":-3.8},{"date":"2025-08-20","value":-4.8},{"date":"2025-08-24","value":-5.5},{"date":"2025-08-28","value":-5.0},{"date":"2025-09-01","value":-7.2},{"date":"2025-09-05","value":-7.5},{"date":"2025-09-09","value":-8.8},{"date":"2025-09-13","value":-9.7},{"date":"2025-09-17","value":-8.3},{"date":"2025-09-21","value":-9.3},{"date":"2025-09-25","value":-9.8},{"date":"2025-09-29","value":-8.3},{"date":"2025-10-03","value":-7.5},{"date":"2025-10-07","value":-6.8},{"date":"2025-10-11","value":-5.2},{"date":"2025-10-15","value":-3.5},{"date":"2025-10-19","value":-1.7},{"date":"2025-10-23","value":-2.2},{"date":"2025-10-27","value":-4.0},{"date":"2025-10-31","value":-4.9},{"date":"2025-11-04","value":-7.2},{"date":"2025-11-08","value":-6.0},{"date":"2025-11-12","value":-6.2},{"date":"2025-11-16","value":-6.5},{"date":"2025-11-20","value":-5.0},{"date":"2025-11-24","value":-4.8},{"date":"2025-11-28","value":-5.7},{"date":"2025-12-02","value":-6.0},{"date":"2025-12-06","value":-7.8},{"date":"2025-12-10","value":-10.0},{"date":"2025-12-14","value":-12.0},{"date":"2025-12-18","value":-11.3},{"date":"2025-12-22","value":-10.2},{"date":"2025-12-26","value":-12.0},{"date":"2025-12-30","value":-12.3},{"date":"2026-01-03","value":-11.7},{"date":"2026-01-07","value":-11.5},{"date":"2026-01-11","value":-13.7},{"date":"2026-01-15","value":-12.7},{"date":"2026-01-19","value":-11.0},{"date":"2026-01-23","value":-12.0},{"date":"2026-01-27","value":-11.7},{"date":"2026-01-31","value":-11.7},{"date":"2026-02-04","value":-11.5},{"date":"2026-02-08","value":-13.0},{"date":"2026-02-12","value":-10.8},{"date":"2026-02-16","value":-9.0},{"date":"2026-02-20","value":-3.9},{"date":"2026-02-24","value":-4.5},{"date":"2026-02-28","value":-3.5},{"date":"2026-03-04","value":-2.0},{"date":"2026-03-08","value":-2.8},{"date":"2026-03-12","value":-2.2},{"date":"2026-03-16","value":-1.5},{"date":"2026-03-20","value":-0.3},{"date":"2026-03-24","value":-2.5},{"date":"2026-03-28","value":-3.0},{"date":"2026-04-01","value":1.0},{"date":"2026-04-03","value":3.0},{"date":"2026-04-05","value":1.0},{"date":"2026-04-09","value":-0.8},{"date":"2026-04-13","value":-2.0},{"date":"2026-04-17","value":-4.5},{"date":"2026-04-21","value":-6.8},{"date":"2026-04-25","value":-9.5},{"date":"2026-04-27","value":-10.5},{"date":"2026-04-29","value":-8.2},{"date":"2026-05-03","value":-8.5},{"date":"2026-05-07","value":-9.0},{"date":"2026-05-11","value":-8.5},{"date":"2026-05-12","value":-12.0}]
},
"spacing":26.5,
"vconcat":[
{
"width":1090.3,"height":74,
"view":{"stroke":null},
"title":{"text":"DAILY SECTOR SNAPSHOT","subtitle":"BESPOKE INVESTMENT GROUP","anchor":"start","frame":"group","orient":"top","offset":-58,"dx":60,"font":"DejaVu Sans","fontSize":22,"fontWeight":"bold","color":"#ffffff","subtitleFont":"DejaVu Sans","subtitleFontSize":15,"subtitleFontWeight":"bold","subtitleColor":"#4aa64c","subtitlePadding":1.5},
"data":{"values":[{}]},
"layer":[
{"mark":{"type":"rect","color":"#1b395b"},"encoding":{"x":{"datum":-41.7,"type":"quantitative","scale":{"domain":[0,1090.3],"nice":false,"zero":false},"axis":null},"x2":{"datum":1090.3},"y":{"datum":0,"type":"quantitative","scale":{"domain":[0,74],"reverse":true,"nice":false,"zero":false},"axis":null},"y2":{"datum":70}}},
{"mark":{"type":"rect","color":"#3b8c3f"},"encoding":{"x":{"datum":-41.7,"type":"quantitative","scale":{"domain":[0,1090.3],"nice":false,"zero":false},"axis":null},"x2":{"datum":1090.3},"y":{"datum":70,"type":"quantitative","scale":{"domain":[0,74],"reverse":true,"nice":false,"zero":false},"axis":null},"y2":{"datum":74}}},
{"mark":{"type":"rule","color":"#4caf50","strokeWidth":3.5,"strokeCap":"round"},"encoding":{"x":{"datum":-30.2,"type":"quantitative","scale":{"domain":[0,1090.3],"nice":false,"zero":false},"axis":null},"y":{"datum":16,"type":"quantitative","scale":{"domain":[0,74],"reverse":true,"nice":false,"zero":false},"axis":null},"y2":{"datum":47}}},
{"mark":{"type":"point","shape":"circle","filled":true,"color":"#f2f4f7","opacity":1,"size":2124},"encoding":{"x":{"datum":16.3,"type":"quantitative","scale":{"domain":[0,1090.3],"nice":false,"zero":false},"axis":null},"y":{"datum":30,"type":"quantitative","scale":{"domain":[0,74],"reverse":true,"nice":false,"zero":false},"axis":null}}},
{"mark":{"type":"rule","color":"#1b395b","strokeWidth":3.5},"encoding":{"x":{"datum":5.2,"type":"quantitative","scale":{"domain":[0,1090.3],"nice":false,"zero":false},"axis":null},"y":{"datum":7.6,"type":"quantitative","scale":{"domain":[0,74],"reverse":true,"nice":false,"zero":false},"axis":null},"x2":{"datum":38.7},"y2":{"datum":41.1}}},
{"mark":{"type":"rule","color":"#1b395b","strokeWidth":3.5},"encoding":{"x":{"datum":-6.1,"type":"quantitative","scale":{"domain":[0,1090.3],"nice":false,"zero":false},"axis":null},"y":{"datum":18.9,"type":"quantitative","scale":{"domain":[0,74],"reverse":true,"nice":false,"zero":false},"axis":null},"x2":{"datum":27.4},"y2":{"datum":52.4}}},
{"mark":{"type":"rule","color":"#1b395b","strokeWidth":3.5},"encoding":{"x":{"datum":5.2,"type":"quantitative","scale":{"domain":[0,1090.3],"nice":false,"zero":false},"axis":null},"y":{"datum":52.4,"type":"quantitative","scale":{"domain":[0,74],"reverse":true,"nice":false,"zero":false},"axis":null},"x2":{"datum":38.7},"y2":{"datum":18.9}}},
{"mark":{"type":"rule","color":"#1b395b","strokeWidth":3.5},"encoding":{"x":{"datum":-6.1,"type":"quantitative","scale":{"domain":[0,1090.3],"nice":false,"zero":false},"axis":null},"y":{"datum":41.1,"type":"quantitative","scale":{"domain":[0,74],"reverse":true,"nice":false,"zero":false},"axis":null},"x2":{"datum":27.4},"y2":{"datum":7.6}}}
]
},
{
"spacing":3,
"vconcat":[
{"spacing":0,"hconcat":[
{"width":330,"height":156.5,"title":{"text":"Communication Services","offset":-18,"dx":-15},"data":{"name":"comm"},"layer":[
{"data":{"values":[{}]},"mark":{"type":"rule","color":"#d9d9d9","strokeWidth":1},"encoding":{"x":{"datum":{"year":2025,"month":5,"date":12,"utc":true},"type":"temporal","title":null},"x2":{"datum":{"year":2026,"month":5,"date":12,"utc":true}},"y":{"datum":0,"type":"quantitative","title":null}}},
{"mark":{"type":"line"},"encoding":{"x":{"field":"date","type":"temporal","title":null,"scale":{"type":"utc","nice":false,"domain":[{"year":2025,"month":5,"date":12,"utc":true},{"year":2026,"month":5,"date":28,"utc":true}]},"axis":{"values":[{"year":2025,"month":5,"date":12,"utc":true},{"year":2025,"month":8,"date":12,"utc":true},{"year":2025,"month":11,"date":12,"utc":true},{"year":2026,"month":2,"date":12,"utc":true},{"year":2026,"month":5,"date":12,"utc":true}],"format":"%-m/%y","labelPadding":15,"labelBaseline":"middle","labelOverlap":false,"labelFlush":false,"tickCount":30,"minExtent":22,"maxExtent":22}},"y":{"field":"value","type":"quantitative","title":null,"scale":{"domain":[-5,20],"nice":false,"zero":false},"axis":{"values":[-5,0,5,10,15,20],"format":"d","tickCount":30,"labelOverlap":false,"labelPadding":11,"minExtent":41.7,"maxExtent":41.7}}}}
]},
{"width":320.5,"height":156.5,"title":{"text":"Consumer Discretionary","offset":-18,"dx":-10},"data":{"name":"disc"},"layer":[
{"data":{"values":[{}]},"mark":{"type":"rule","color":"#d9d9d9","strokeWidth":1},"encoding":{"x":{"datum":{"year":2025,"month":5,"date":12,"utc":true},"type":"temporal","title":null},"x2":{"datum":{"year":2026,"month":5,"date":19,"utc":true}},"y":{"datum":0,"type":"quantitative","title":null}}},
{"mark":{"type":"line"},"encoding":{"x":{"field":"date","type":"temporal","title":null,"scale":{"type":"utc","nice":false,"domain":[{"year":2025,"month":5,"date":12,"utc":true},{"year":2026,"month":5,"date":28,"utc":true}]},"axis":{"values":[{"year":2025,"month":5,"date":12,"utc":true},{"year":2025,"month":8,"date":12,"utc":true},{"year":2025,"month":11,"date":12,"utc":true},{"year":2026,"month":2,"date":12,"utc":true},{"year":2026,"month":5,"date":12,"utc":true}],"format":"%-m/%y","labelPadding":15,"labelBaseline":"middle","labelOverlap":false,"labelFlush":false,"tickCount":30,"minExtent":22,"maxExtent":22}},"y":{"field":"value","type":"quantitative","title":null,"scale":{"domain":[-8,6],"nice":false,"zero":false},"axis":{"values":[-8,-6,-4,-2,0,2,4,6],"format":"d","tickCount":30,"labelOverlap":false,"labelPadding":19,"minExtent":43.3,"maxExtent":43.3}}}}
]},
{"width":320.5,"height":156.5,"title":{"text":"Consumer Staples","offset":-18,"dx":-10.5},"data":{"name":"staples"},"layer":[
{"data":{"values":[{}]},"mark":{"type":"rule","color":"#d9d9d9","strokeWidth":1},"encoding":{"x":{"datum":{"year":2025,"month":5,"date":12,"utc":true},"type":"temporal","title":null},"x2":{"datum":{"year":2026,"month":5,"date":19,"utc":true}},"y":{"datum":0,"type":"quantitative","title":null}}},
{"mark":{"type":"line"},"encoding":{"x":{"field":"date","type":"temporal","title":null,"scale":{"type":"utc","nice":false,"domain":[{"year":2025,"month":5,"date":12,"utc":true},{"year":2026,"month":5,"date":28,"utc":true}]},"axis":{"values":[{"year":2025,"month":5,"date":12,"utc":true},{"year":2025,"month":8,"date":12,"utc":true},{"year":2025,"month":11,"date":12,"utc":true},{"year":2026,"month":2,"date":12,"utc":true},{"year":2026,"month":5,"date":12,"utc":true}],"format":"%-m/%y","labelPadding":15,"labelBaseline":"middle","labelOverlap":false,"labelFlush":false,"tickCount":30,"minExtent":22,"maxExtent":22}},"y":{"field":"value","type":"quantitative","title":null,"scale":{"domain":[-25,5],"nice":false,"zero":false},"axis":{"values":[-25,-20,-15,-10,-5,0,5],"format":"d","tickCount":30,"labelOverlap":false,"labelPadding":12,"minExtent":53.8,"maxExtent":53.8}}}}
]}
]},
{"spacing":0,"hconcat":[
{"width":320.5,"height":156.5,"title":{"text":"Energy","offset":-18,"dx":-10.3},"data":{"name":"energy"},"layer":[
{"data":{"values":[{}]},"mark":{"type":"rule","color":"#d9d9d9","strokeWidth":1},"encoding":{"x":{"datum":{"year":2025,"month":5,"date":12,"utc":true},"type":"temporal","title":null},"x2":{"datum":{"year":2026,"month":5,"date":19,"utc":true}},"y":{"datum":0,"type":"quantitative","title":null}}},
{"mark":{"type":"line"},"encoding":{"x":{"field":"date","type":"temporal","title":null,"scale":{"type":"utc","nice":false,"domain":[{"year":2025,"month":5,"date":12,"utc":true},{"year":2026,"month":5,"date":28,"utc":true}]},"axis":{"values":[{"year":2025,"month":5,"date":12,"utc":true},{"year":2025,"month":8,"date":12,"utc":true},{"year":2025,"month":11,"date":12,"utc":true},{"year":2026,"month":2,"date":12,"utc":true},{"year":2026,"month":5,"date":12,"utc":true}],"format":"%-m/%y","labelPadding":15,"labelBaseline":"middle","labelOverlap":false,"labelFlush":false,"tickCount":30,"minExtent":22,"maxExtent":22}},"y":{"field":"value","type":"quantitative","title":null,"scale":{"domain":[-20,50],"nice":false,"zero":false},"axis":{"values":[-20,-10,0,10,20,30,40,50],"format":"d","tickCount":30,"labelOverlap":false,"labelPadding":11,"minExtent":41.7,"maxExtent":41.7}}}}
]},
{"width":320.5,"height":156.5,"title":{"text":"Financials","offset":-18,"dx":-10},"data":{"name":"fin"},"layer":[
{"data":{"values":[{}]},"mark":{"type":"rule","color":"#d9d9d9","strokeWidth":1},"encoding":{"x":{"datum":{"year":2025,"month":5,"date":12,"utc":true},"type":"temporal","title":null},"x2":{"datum":{"year":2026,"month":5,"date":19,"utc":true}},"y":{"datum":0,"type":"quantitative","title":null}}},
{"mark":{"type":"line"},"encoding":{"x":{"field":"date","type":"temporal","title":null,"scale":{"type":"utc","nice":false,"domain":[{"year":2025,"month":5,"date":12,"utc":true},{"year":2026,"month":5,"date":28,"utc":true}]},"axis":{"values":[{"year":2025,"month":5,"date":12,"utc":true},{"year":2025,"month":8,"date":12,"utc":true},{"year":2025,"month":11,"date":12,"utc":true},{"year":2026,"month":2,"date":12,"utc":true},{"year":2026,"month":5,"date":12,"utc":true}],"format":"%-m/%y","labelPadding":15,"labelBaseline":"middle","labelOverlap":false,"labelFlush":false,"tickCount":30,"minExtent":22,"maxExtent":22}},"y":{"field":"value","type":"quantitative","title":null,"scale":{"domain":[-25,5],"nice":false,"zero":false},"axis":{"values":[-25,-20,-15,-10,-5,0,5],"format":"d","tickCount":30,"labelOverlap":false,"labelPadding":19,"minExtent":52.8,"maxExtent":52.8}}}}
]},
{"width":320.5,"height":156.5,"title":{"text":"Health Care","offset":-18,"dx":-10},"data":{"name":"health"},"layer":[
{"data":{"values":[{}]},"mark":{"type":"rule","color":"#d9d9d9","strokeWidth":1},"encoding":{"x":{"datum":{"year":2025,"month":5,"date":12,"utc":true},"type":"temporal","title":null},"x2":{"datum":{"year":2026,"month":5,"date":19,"utc":true}},"y":{"datum":0,"type":"quantitative","title":null}}},
{"mark":{"type":"line"},"encoding":{"x":{"field":"date","type":"temporal","title":null,"scale":{"type":"utc","nice":false,"domain":[{"year":2025,"month":5,"date":12,"utc":true},{"year":2026,"month":5,"date":28,"utc":true}]},"axis":{"values":[{"year":2025,"month":5,"date":12,"utc":true},{"year":2025,"month":8,"date":12,"utc":true},{"year":2025,"month":11,"date":12,"utc":true},{"year":2026,"month":2,"date":12,"utc":true},{"year":2026,"month":5,"date":12,"utc":true}],"format":"%-m/%y","labelPadding":15,"labelBaseline":"middle","labelOverlap":false,"labelFlush":false,"tickCount":30,"minExtent":22,"maxExtent":22}},"y":{"field":"value","type":"quantitative","title":null,"scale":{"domain":[-25,0],"nice":false,"zero":false},"axis":{"values":[-25,-20,-15,-10,-5,0],"format":"d","tickCount":30,"labelOverlap":false,"labelPadding":10,"minExtent":52.8,"maxExtent":52.8}}}}
]}
]},
{"spacing":0,"hconcat":[
{"width":320.5,"height":156.5,"title":{"text":"Industrials","offset":-18,"dx":-10.3},"data":{"name":"ind"},"layer":[
{"data":{"values":[{}]},"mark":{"type":"rule","color":"#d9d9d9","strokeWidth":1},"encoding":{"x":{"datum":{"year":2025,"month":5,"date":12,"utc":true},"type":"temporal","title":null},"x2":{"datum":{"year":2026,"month":5,"date":19,"utc":true}},"y":{"datum":0,"type":"quantitative","title":null}}},
{"mark":{"type":"line"},"encoding":{"x":{"field":"date","type":"temporal","title":null,"scale":{"type":"utc","nice":false,"domain":[{"year":2025,"month":5,"date":12,"utc":true},{"year":2026,"month":5,"date":28,"utc":true}]},"axis":{"values":[{"year":2025,"month":5,"date":12,"utc":true},{"year":2025,"month":8,"date":12,"utc":true},{"year":2025,"month":11,"date":12,"utc":true},{"year":2026,"month":2,"date":12,"utc":true},{"year":2026,"month":5,"date":12,"utc":true}],"format":"%-m/%y","labelPadding":15,"labelBaseline":"middle","labelOverlap":false,"labelFlush":false,"tickCount":30,"minExtent":22,"maxExtent":22}},"y":{"field":"value","type":"quantitative","title":null,"scale":{"domain":[-9,15],"nice":false,"zero":false},"axis":{"values":[-9,-6,-3,0,3,6,9,12,15],"format":"d","tickCount":30,"labelOverlap":false,"labelPadding":11,"minExtent":41.7,"maxExtent":41.7}}}}
]},
{"width":320.5,"height":156.5,"title":{"text":"Materials","offset":-18,"dx":-10},"data":{"name":"mat"},"layer":[
{"data":{"values":[{}]},"mark":{"type":"rule","color":"#d9d9d9","strokeWidth":1},"encoding":{"x":{"datum":{"year":2025,"month":5,"date":12,"utc":true},"type":"temporal","title":null},"x2":{"datum":{"year":2026,"month":5,"date":19,"utc":true}},"y":{"datum":0,"type":"quantitative","title":null}}},
{"mark":{"type":"line"},"encoding":{"x":{"field":"date","type":"temporal","title":null,"scale":{"type":"utc","nice":false,"domain":[{"year":2025,"month":5,"date":12,"utc":true},{"year":2026,"month":5,"date":28,"utc":true}]},"axis":{"values":[{"year":2025,"month":5,"date":12,"utc":true},{"year":2025,"month":8,"date":12,"utc":true},{"year":2025,"month":11,"date":12,"utc":true},{"year":2026,"month":2,"date":12,"utc":true},{"year":2026,"month":5,"date":12,"utc":true}],"format":"%-m/%y","labelPadding":15,"labelBaseline":"middle","labelOverlap":false,"labelFlush":false,"tickCount":30,"minExtent":22,"maxExtent":22}},"y":{"field":"value","type":"quantitative","title":null,"scale":{"domain":[-20,10],"nice":false,"zero":false},"axis":{"values":[-20,-15,-10,-5,0,5,10],"format":"d","tickCount":30,"labelOverlap":false,"labelPadding":14,"minExtent":52.8,"maxExtent":52.8}}}}
]},
{"width":320.5,"height":156.5,"title":{"text":"Real Estate","offset":-18,"dx":-10},"data":{"name":"re"},"layer":[
{"data":{"values":[{}]},"mark":{"type":"rule","color":"#d9d9d9","strokeWidth":1},"encoding":{"x":{"datum":{"year":2025,"month":5,"date":12,"utc":true},"type":"temporal","title":null},"x2":{"datum":{"year":2026,"month":5,"date":19,"utc":true}},"y":{"datum":0,"type":"quantitative","title":null}}},
{"mark":{"type":"line"},"encoding":{"x":{"field":"date","type":"temporal","title":null,"scale":{"type":"utc","nice":false,"domain":[{"year":2025,"month":5,"date":12,"utc":true},{"year":2026,"month":5,"date":28,"utc":true}]},"axis":{"values":[{"year":2025,"month":5,"date":12,"utc":true},{"year":2025,"month":8,"date":12,"utc":true},{"year":2025,"month":11,"date":12,"utc":true},{"year":2026,"month":2,"date":12,"utc":true},{"year":2026,"month":5,"date":12,"utc":true}],"format":"%-m/%y","labelPadding":15,"labelBaseline":"middle","labelOverlap":false,"labelFlush":false,"tickCount":30,"minExtent":22,"maxExtent":22}},"y":{"field":"value","type":"quantitative","title":null,"scale":{"domain":[-25,5],"nice":false,"zero":false},"axis":{"values":[-25,-20,-15,-10,-5,0,5],"format":"d","tickCount":30,"labelOverlap":false,"labelPadding":10,"minExtent":52.8,"maxExtent":52.8}}}}
]}
]},
{"spacing":0,"hconcat":[
{"width":320.5,"height":156.5,"title":{"text":"Technology","offset":-18,"dx":-10.3},"data":{"name":"tech"},"layer":[
{"data":{"values":[{}]},"mark":{"type":"rule","color":"#d9d9d9","strokeWidth":1},"encoding":{"x":{"datum":{"year":2025,"month":5,"date":12,"utc":true},"type":"temporal","title":null},"x2":{"datum":{"year":2026,"month":5,"date":19,"utc":true}},"y":{"datum":0,"type":"quantitative","title":null}}},
{"mark":{"type":"line"},"encoding":{"x":{"field":"date","type":"temporal","title":null,"scale":{"type":"utc","nice":false,"domain":[{"year":2025,"month":5,"date":12,"utc":true},{"year":2026,"month":5,"date":28,"utc":true}]},"axis":{"values":[{"year":2025,"month":5,"date":12,"utc":true},{"year":2025,"month":8,"date":12,"utc":true},{"year":2025,"month":11,"date":12,"utc":true},{"year":2026,"month":2,"date":12,"utc":true},{"year":2026,"month":5,"date":12,"utc":true}],"format":"%-m/%y","labelPadding":15,"labelBaseline":"middle","labelOverlap":false,"labelFlush":false,"tickCount":30,"minExtent":22,"maxExtent":22}},"y":{"field":"value","type":"quantitative","title":null,"scale":{"domain":[0,25],"nice":false,"zero":false},"axis":{"values":[0,5,10,15,20,25],"format":"d","tickCount":30,"labelOverlap":false,"labelPadding":11,"minExtent":41.7,"maxExtent":41.7}}}}
]},
{"width":320.5,"height":156.5,"title":{"text":"Utilities","offset":-18,"dx":-10},"data":{"name":"util"},"layer":[
{"data":{"values":[{}]},"mark":{"type":"rule","color":"#d9d9d9","strokeWidth":1},"encoding":{"x":{"datum":{"year":2025,"month":5,"date":12,"utc":true},"type":"temporal","title":null},"x2":{"datum":{"year":2026,"month":5,"date":19,"utc":true}},"y":{"datum":0,"type":"quantitative","title":null}}},
{"mark":{"type":"line"},"encoding":{"x":{"field":"date","type":"temporal","title":null,"scale":{"type":"utc","nice":false,"domain":[{"year":2025,"month":5,"date":12,"utc":true},{"year":2026,"month":5,"date":28,"utc":true}]},"axis":{"values":[{"year":2025,"month":5,"date":12,"utc":true},{"year":2025,"month":8,"date":12,"utc":true},{"year":2025,"month":11,"date":12,"utc":true},{"year":2026,"month":2,"date":12,"utc":true},{"year":2026,"month":5,"date":12,"utc":true}],"format":"%-m/%y","labelPadding":15,"labelBaseline":"middle","labelOverlap":false,"labelFlush":false,"tickCount":30,"minExtent":22,"maxExtent":22}},"y":{"field":"value","type":"quantitative","title":null,"scale":{"domain":[-15,5],"nice":false,"zero":false},"axis":{"values":[-15,-10,-5,0,5],"format":"d","tickCount":30,"labelOverlap":false,"labelPadding":11.5,"minExtent":53.3,"maxExtent":53.3}}}}
]}
]}
]
}
]
}
